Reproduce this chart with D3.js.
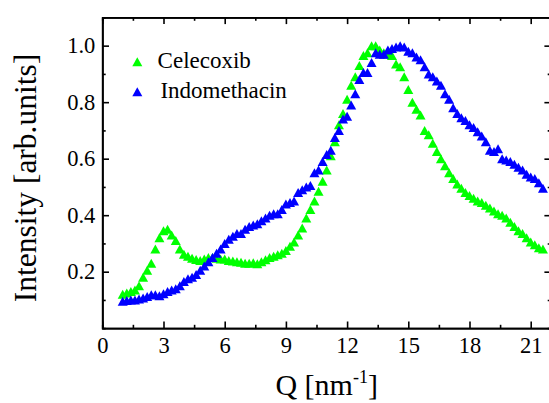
<!DOCTYPE html>
<html lang="en">

<head>
    <meta charset="utf-8">
    <!-- Load d3.js -->
    <script src="https://cdn.jsdelivr.net/npm/d3@7"></script>
    <style>
        body { margin: 0; background: #fff; }
        svg text { font-family: 'Times New Roman', 'Liberation Serif', serif; fill: #000; }
    </style>
</head>

<body>
    <!-- Create a div where the graph will take place -->
    <div id="my_dataviz"></div>
</body>

<script>

    // Q grid shared by both series [nm^-1]
    const qValues = [
        1.0, 1.2, 1.4, 1.6, 1.8, 2.0, 2.2, 2.4, 2.6, 2.8,
        3.0, 3.2, 3.4, 3.6, 3.8, 4.0, 4.2, 4.4, 4.6, 4.8,
        5.0, 5.2, 5.4, 5.6, 5.8, 6.0, 6.2, 6.4, 6.6, 6.8,
        7.0, 7.2, 7.4, 7.6, 7.8, 8.0, 8.2, 8.4, 8.6, 8.8,
        9.0, 9.2, 9.4, 9.6, 9.8, 10.0, 10.2, 10.4, 10.6, 10.8,
        11.0, 11.2, 11.4, 11.6, 11.8, 12.0, 12.2, 12.4, 12.6, 12.8,
        13.0, 13.2, 13.4, 13.6, 13.8, 14.0, 14.2, 14.4, 14.6, 14.8,
        15.0, 15.2, 15.4, 15.6, 15.8, 16.0, 16.2, 16.4, 16.6, 16.8,
        17.0, 17.2, 17.4, 17.6, 17.8, 18.0, 18.2, 18.4, 18.6, 18.8,
        19.0, 19.2, 19.4, 19.6, 19.8, 20.0, 20.2, 20.4, 20.6, 20.8,
        21.0, 21.2, 21.4, 21.6
    ];

    const celecoxib = [
        0.120, 0.125, 0.130, 0.135, 0.150, 0.180, 0.205, 0.230, 0.280, 0.320,
        0.345, 0.350, 0.330, 0.310, 0.280, 0.262, 0.255, 0.248, 0.243, 0.240,
        0.245, 0.250, 0.250, 0.248, 0.245, 0.245, 0.240, 0.238, 0.235, 0.233,
        0.230, 0.230, 0.232, 0.228, 0.235, 0.242, 0.250, 0.255, 0.260, 0.265,
        0.275, 0.290, 0.305, 0.330, 0.355, 0.390, 0.420, 0.450, 0.485, 0.520,
        0.560, 0.610, 0.660, 0.720, 0.760, 0.810, 0.860, 0.890, 0.930, 0.965,
        0.975, 1.000, 1.000, 0.985, 0.975, 0.970, 0.965, 0.935, 0.925, 0.890,
        0.845, 0.800, 0.775, 0.755, 0.700, 0.685, 0.655, 0.625, 0.600, 0.575,
        0.550, 0.530, 0.510, 0.495, 0.480, 0.470, 0.460, 0.450, 0.445, 0.435,
        0.425, 0.415, 0.405, 0.400, 0.390, 0.375, 0.360, 0.345, 0.335, 0.320,
        0.305, 0.295, 0.285, 0.280
    ];

    const indomethacin = [
        0.095, 0.098, 0.100, 0.100, 0.103, 0.107, 0.112, 0.118, 0.118, 0.115,
        0.122, 0.130, 0.135, 0.140, 0.150, 0.165, 0.175, 0.180, 0.190, 0.205,
        0.220, 0.235, 0.250, 0.265, 0.280, 0.300, 0.315, 0.325, 0.335, 0.335,
        0.350, 0.360, 0.365, 0.370, 0.380, 0.390, 0.400, 0.405, 0.405, 0.420,
        0.440, 0.445, 0.450, 0.480, 0.490, 0.500, 0.505, 0.550, 0.560, 0.590,
        0.615, 0.630, 0.675, 0.700, 0.740, 0.750, 0.790, 0.830, 0.880, 0.905,
        0.905, 0.940, 0.975, 0.970, 0.970, 0.985, 0.990, 0.995, 1.000, 0.995,
        0.980, 0.975, 0.960, 0.950, 0.925, 0.900, 0.890, 0.875, 0.860, 0.830,
        0.810, 0.780, 0.760, 0.745, 0.735, 0.720, 0.710, 0.695, 0.680, 0.660,
        0.630, 0.625, 0.635, 0.600, 0.595, 0.590, 0.580, 0.570, 0.560, 0.545,
        0.535, 0.530, 0.515, 0.495
    ];

    const seriesNames = ["Celecoxib", "Indomethacin"];
    const seriesColors = ["#00ff00", "#0000ff"];

    const xMajorTicks = [0, 3, 6, 9, 12, 15, 18, 21];
    const xMinorTicks = [1.5, 4.5, 7.5, 10.5, 13.5, 16.5, 19.5];
    const yMajorTicks = [0.2, 0.4, 0.6, 0.8, 1.0];
    const yMinorTicks = [0.1, 0.3, 0.5, 0.7, 0.9];

    // set the dimensions and margins of the graph
    const margin = { top: 17.4, left: 102.3 },
        width = 448.8,
        height = 310.8;

    const svg = d3.select("#my_dataviz")
        .append("svg")
        .attr("width", 549)
        .attr("height", 403)
        .append("g")
        .attr("transform", `translate(${margin.left},${margin.top})`);

    const x = d3.scaleLinear().domain([0, 22]).range([0, width]);
    const y = d3.scaleLinear().domain([0, 1.1]).range([height, 0]);

    // axes: ticks point inward on all four sides
    function styleAxis(g) {
        g.attr("font-size", 22.5);
        g.select(".domain").attr("stroke-width", 1.8);
        g.selectAll(".tick line").attr("stroke-width", 1.6);
    }

    svg.append("g")
        .attr("transform", `translate(0, ${height})`)
        .call(d3.axisBottom(x).tickValues(xMajorTicks).tickSizeInner(-6.7).tickSizeOuter(0).tickPadding(8.5))
        .call(styleAxis);
    svg.append("g")
        .attr("transform", `translate(0, ${height})`)
        .call(d3.axisBottom(x).tickValues(xMinorTicks).tickSize(-3.4).tickFormat(""))
        .call(styleAxis);

    svg.append("g")
        .call(d3.axisTop(x).tickValues(xMajorTicks).tickSizeInner(-6.7).tickSizeOuter(0).tickFormat(""))
        .call(styleAxis);
    svg.append("g")
        .call(d3.axisTop(x).tickValues(xMinorTicks).tickSize(-3.4).tickFormat(""))
        .call(styleAxis);

    svg.append("g")
        .call(d3.axisLeft(y).tickValues(yMajorTicks).tickSizeInner(-6.7).tickSizeOuter(0).tickPadding(7).tickFormat(d3.format(".1f")))
        .call(styleAxis);
    svg.append("g")
        .call(d3.axisLeft(y).tickValues(yMinorTicks).tickSize(-3.4).tickFormat(""))
        .call(styleAxis);

    svg.append("g")
        .attr("transform", `translate(${width}, 0)`)
        .call(d3.axisRight(y).tickValues(yMajorTicks).tickSizeInner(-6.7).tickSizeOuter(0).tickFormat(""))
        .call(styleAxis);
    svg.append("g")
        .attr("transform", `translate(${width}, 0)`)
        .call(d3.axisRight(y).tickValues(yMinorTicks).tickSize(-3.4).tickFormat(""))
        .call(styleAxis);

    // triangle marker
    const tri = "M0,-4.5L5,4.5L-5,4.5Z";

    [celecoxib, indomethacin].forEach(function (vals, i) {
        svg.append("g")
            .selectAll("path")
            .data(qValues.map((q, k) => ({ q: q, v: vals[k] })))
            .enter()
            .append("path")
            .attr("d", tri)
            .attr("transform", d => `translate(${x(d.q)},${y(d.v)})`)
            .attr("fill", seriesColors[i]);
    });

    // legend
    const legend = svg.append("g");
    seriesNames.forEach(function (name, i) {
        legend.append("path")
            .attr("d", tri)
            .attr("transform", `translate(35, ${44.3 + i * 30})`)
            .attr("fill", seriesColors[i]);
        legend.append("text")
            .attr("x", 55.3 + i * 2.8)
            .attr("y", 50.9 + i * 30)
            .attr("font-size", 23)
            .text(name);
    });

    // axis titles
    const xTitle = svg.append("text")
        .attr("x", width / 2)
        .attr("y", 395 - margin.top)
        .attr("text-anchor", "middle")
        .attr("font-size", 30);
    xTitle.append("tspan").text("Q [nm");
    xTitle.append("tspan").attr("font-size", 18).attr("dy", -12).text("-1");
    xTitle.append("tspan").attr("dy", 12).text("]");

    svg.append("text")
        .attr("transform", `translate(${36 - margin.left}, ${178 - margin.top}) rotate(-90)`)
        .attr("text-anchor", "middle")
        .attr("font-size", 31.5)
        .text("Intensity [arb.units]");

</script>

</html>
